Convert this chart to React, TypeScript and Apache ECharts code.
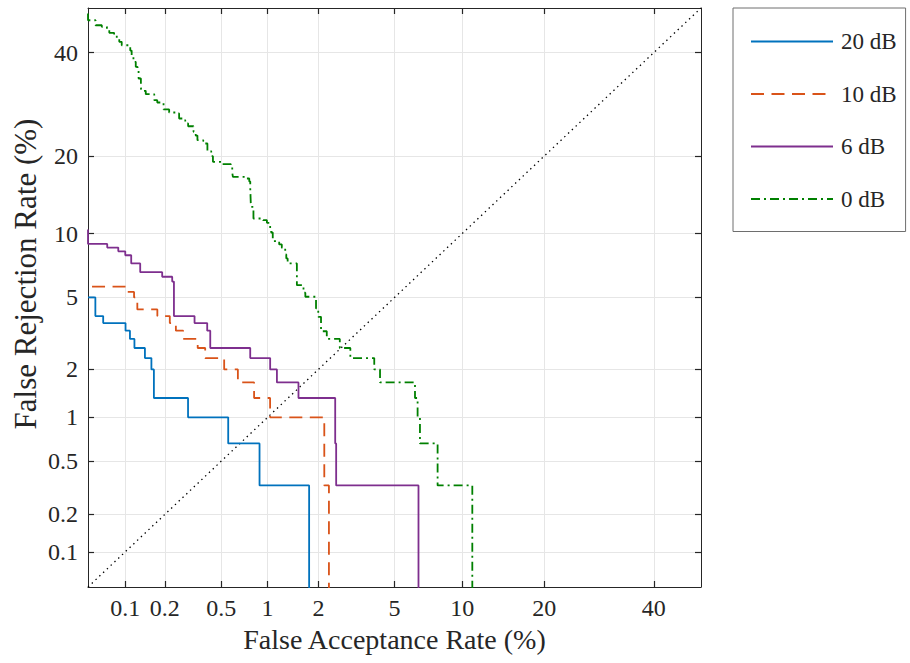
import React, { useEffect, useRef } from "react";
import * as echarts from "echarts";

// ---- axis ticks (percent) ----
const tickPercents = [0.1, 0.2, 0.5, 1, 2, 5, 10, 20, 40];
const tickLabels = ["0.1", "0.2", "0.5", "1", "2", "5", "10", "20", "40"];
const axisMinPercent = 0.05;
const axisMaxPercent = 50;

// ---- DET curves: false acceptance (%) / false rejection (%) at each step ----
const far20 = [0.05, 0.0575, 0.0666, 0.1004, 0.1087, 0.1178, 0.1418, 0.1588, 0.1658, 0.2948, 0.5576, 0.89, 1.771];
const frr20 = [5.0, 4.0, 3.667, 3.333, 3.0, 2.667, 2.333, 2.0, 1.333, 1.0, 0.667, 0.333, 0];

const far10 = [0.054, 0.1045, 0.117, 0.124, 0.176, 0.2176, 0.241, 0.272, 0.345, 0.389, 0.524, 0.646, 0.822, 1.036, 2.158, 2.29];
const frr10 = [5.667, 5.333, 5.0, 4.333, 4.0, 3.667, 3.333, 3.0, 2.667, 2.333, 2.0, 1.667, 1.333, 1.0, 0.333, 0];

const far6 = [0.05, 0.05, 0.0718, 0.088, 0.0999, 0.1112, 0.1305, 0.1912, 0.2266, 0.2333, 0.3278, 0.4017, 0.4216, 0.7767, 1.037, 1.141, 1.536, 2.479, 2.509, 6.47];
const frr6 = [10.4, 9.0, 8.667, 8.333, 8.0, 7.333, 6.667, 6.333, 6.0, 4.0, 3.667, 3.333, 2.667, 2.333, 2.0, 1.667, 1.333, 0.667, 0.333, 0];

const far0 = [
  0.05, 0.05, 0.0577, 0.0649, 0.0714, 0.0746, 0.0815, 0.0856, 0.0896, 0.0937,
  0.1093, 0.1121, 0.1157, 0.1206, 0.1245, 0.1268, 0.1321, 0.1327, 0.1439, 0.1668,
  0.1757, 0.1957, 0.2153, 0.2425, 0.2544, 0.2725, 0.2816, 0.2952, 0.3225, 0.334,
  0.3435, 0.3772, 0.3891, 0.403, 0.4282, 0.4398, 0.5008, 0.5814, 0.593, 0.599,
  0.72, 0.7655, 0.777, 0.7846, 0.8143, 0.9371, 0.99, 1.037, 1.052, 1.076,
  1.178, 1.222, 1.281, 1.3, 1.325, 1.503, 1.503, 1.643, 1.684, 1.939,
  1.996, 2.069, 2.069, 2.228, 2.626, 2.99, 3.972, 4.245, 6.236, 6.41,
  6.57, 7.87, 10.98,
];
const frr0 = [
  48.74, 47.23, 46.1, 45.74, 45.13, 44.39, 44.12, 43.27, 42.38, 41.62,
  40.45, 39.13, 37.98, 36.91, 36.12, 34.43, 32.71, 31.89, 31.21, 30.01,
  29.56, 28.21, 27.63, 27.44, 26.5, 26.18, 25.58, 25.08, 24.09, 23.43,
  22.62, 22.45, 22.06, 20.78, 19.99, 19.1, 18.74, 18.38, 17.49, 16.87,
  16.63, 16.21, 15.25, 12.93, 11.58, 11.39, 11.11, 10.51, 10.1, 9.26,
  8.95, 8.65, 8.07, 7.73, 7.33, 7.07, 5.76, 5.28, 5.04, 4.39,
  3.96, 3.8, 3.31, 3.0, 2.667, 2.333, 2.0, 1.667, 1.333, 1.0,
  0.667, 0.333, 0,
];

const seriesNames = ["20 dB", "10 dB", "6 dB", "0 dB"];

// inverse standard normal CDF (Acklam)
function probit(p: number): number {
  const a = [-3.969683028665376e1, 2.209460984245205e2, -2.759285104469687e2, 1.38357751867269e2, -3.066479806614716e1, 2.506628277459239];
  const b = [-5.447609879822406e1, 1.615858368580409e2, -1.556989798598866e2, 6.680131188771972e1, -1.328068155288572e1];
  const c = [-7.784894002430293e-3, -3.223964580411365e-1, -2.400758277161838, -2.549671254499106, 4.374664141464968, 2.938163982698783];
  const d = [7.784695709041462e-3, 3.224671290700398e-1, 2.445134137142996, 3.754408661907416];
  const plow = 0.02425;
  if (p <= 0) return -10;
  if (p >= 1) return 10;
  if (p < plow) {
    const q = Math.sqrt(-2 * Math.log(p));
    return (((((c[0] * q + c[1]) * q + c[2]) * q + c[3]) * q + c[4]) * q + c[5]) /
      ((((d[0] * q + d[1]) * q + d[2]) * q + d[3]) * q + 1);
  }
  if (p <= 1 - plow) {
    const q = p - 0.5;
    const r = q * q;
    return ((((((a[0] * r + a[1]) * r + a[2]) * r + a[3]) * r + a[4]) * r + a[5]) * q) /
      (((((b[0] * r + b[1]) * r + b[2]) * r + b[3]) * r + b[4]) * r + 1);
  }
  const q = Math.sqrt(-2 * Math.log(1 - p));
  return -(((((c[0] * q + c[1]) * q + c[2]) * q + c[3]) * q + c[4]) * q + c[5]) /
    ((((d[0] * q + d[1]) * q + d[2]) * q + d[3]) * q + 1);
}
const toZ = (pct: number) => probit(Math.max(pct, 1e-5) / 100);

const FONT = "'Liberation Serif', 'Times New Roman', serif";
const TXT = "#262626";

export default function App() {
  const ref = useRef<HTMLDivElement>(null);
  useEffect(() => {
    if (!ref.current) return;
    const chart = echarts.init(ref.current, undefined, { renderer: "svg" });
    const zMin = toZ(axisMinPercent);
    const zMax = toZ(axisMaxPercent);
    const tickZ = tickPercents.map(toZ);
    const labelFor = (v: number) => {
      let best = 0;
      let bd = Infinity;
      tickZ.forEach((t, i) => {
        const dd = Math.abs(t - v);
        if (dd < bd) { bd = dd; best = i; }
      });
      return tickLabels[best];
    };
    const pts = (xs: number[], ys: number[]) => xs.map((x, i) => [toZ(x), toZ(ys[i])]);

    const axisCommon = (isX: boolean, main: boolean) => ({
      type: "value",
      min: zMin,
      max: zMax,
      position: isX ? (main ? "bottom" : "top") : (main ? "left" : "right"),
      axisLine: { show: true, onZero: false, lineStyle: { color: TXT, width: 1 } },
      axisTick: { show: true, inside: true, length: 6, customValues: tickZ, lineStyle: { color: TXT, width: 1.2 } },
      axisLabel: main
        ? { show: true, customValues: tickZ, formatter: labelFor, fontFamily: FONT, fontSize: 24, color: TXT, margin: isX ? 9 : 10 }
        : { show: false },
      splitLine: main ? { show: true, lineStyle: { color: "#e6e6e6", width: 1 } } : { show: false },
      nameMoveOverlap: false,
    });

    const lineSeries = (name: string, xs: number[], ys: number[], color: string, type: any) => ({
      name,
      type: "line",
      data: pts(xs, ys),
      step: "end",
      symbol: "none",
      showSymbol: false,
      clip: true,
      silent: true,
      lineStyle: { color, width: 1.8, type },
      itemStyle: { color },
      z: 3,
    });

    chart.setOption({
      animation: false,
      textStyle: { fontFamily: FONT },
      grid: { left: 88, top: 8, right: 209, bottom: 76, containLabel: false, outerBoundsMode: "none" },
      xAxis: [
        {
          ...axisCommon(true, true),
          name: "False Acceptance Rate (%)",
          nameLocation: "middle",
          nameGap: 38,
          nameTextStyle: { fontFamily: FONT, fontSize: 28, color: TXT },
        },
        axisCommon(true, false),
      ],
      yAxis: [
        {
          ...axisCommon(false, true),
          name: "False Rejection Rate (%)",
          nameLocation: "middle",
          nameGap: 47,
          nameTextStyle: { fontFamily: FONT, fontSize: 31, color: TXT, padding: [0, 0, 0, 47] },
        },
        axisCommon(false, false),
      ],
      legend: {
        data: seriesNames,
        orient: "vertical",
        left: 733,
        top: 8,
        padding: [22, 9, 21, 17],
        itemGap: 29.5,
        itemWidth: 82,
        itemHeight: 16,
        backgroundColor: "#ffffff",
        borderColor: "#6e6e6e",
        borderWidth: 1,
        borderRadius: 0,
        selectedMode: false,
        itemStyle: { opacity: 0, borderWidth: 0 },
        textStyle: { fontFamily: FONT, fontSize: 23, color: TXT, lineHeight: 16, padding: [0, 0, 0, 3] },
      },
      series: [
        {
          name: "diagonal",
          type: "line",
          data: [[zMin, zMin], [zMax, zMax]],
          symbol: "none",
          silent: true,
          clip: true,
          lineStyle: { color: "#000000", width: 1.3, type: [1.4, 3.8] },
          z: 2,
        },
        lineSeries(seriesNames[0], far20, frr20, "#0072BD", "solid"),
        lineSeries(seriesNames[1], far10, frr10, "#D95319", [13, 7.5]),
        lineSeries(seriesNames[2], far6, frr6, "#7E2F8E", "solid"),
        lineSeries(seriesNames[3], far0, frr0, "#008000", [9, 4, 2, 4]),
      ],
    });
    return () => chart.dispose();
  }, []);
  return (
    <div
      ref={ref}
      style={{ position: "fixed", left: 0, top: 0, width: 910, height: 663, background: "#ffffff" }}
    />
  );
}
